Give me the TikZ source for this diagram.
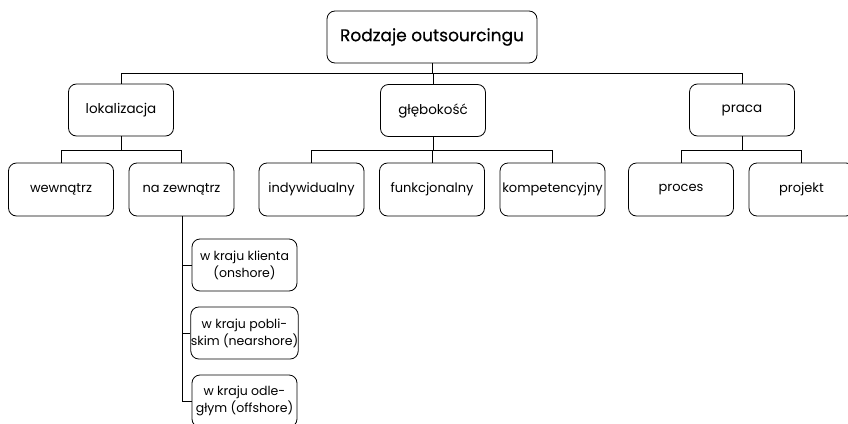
\documentclass[tikz,border=0pt]{standalone}
\usepackage{fontspec}
\setmainfont{Poppins}
\newfontfamily\rootfont[FakeBold=0.6]{Poppins}
\begin{document}
\begin{tikzpicture}[x=1pt,y=-1pt,
  box/.style={draw,line width=0.8pt,rounded corners=8pt,inner sep=0pt,align=center},
  lvlA/.style={box,minimum width=210pt,minimum height=52pt,font=\rootfont\fontsize{17}{20}\selectfont},
  lvlB/.style={box,minimum width=105pt,minimum height=52pt,font=\fontsize{13.5}{16}\selectfont},
  lvlC/.style={box,minimum width=105pt,minimum height=53pt,font=\fontsize{13}{15}\selectfont},
  lvlD/.style={box,minimum width=105pt,minimum height=52pt,font=\fontsize{12.5}{17}\selectfont},
  conn/.style={line width=0.8pt}]
\useasboundingbox (0,0) rectangle (848,423);
\begin{scope}
\clip (0,0) rectangle (848,423);
\node[lvlA] (root) at (432,37) {Rodzaje outsourcingu};
\node[lvlB] (lok) at (121,110) {lokalizacja};
\node[lvlB] (gle) at (433,110.5) {głębokość};
\node[lvlB] (pra) at (742,110) {praca};
\node[lvlC] (wew) at (61,189.5) {wewnątrz};
\node[lvlC] (naz) at (181.5,189.5) {na zewnątrz};
\node[lvlC] (ind) at (311.5,189.5) {indywidualny};
\node[lvlC] (fun) at (432,189.5) {funkcjonalny};
\node[lvlC] (kom) at (552.5,189.5) {kompetencyjny};
\node[lvlC] (pro) at (681,189.5) {proces};
\node[lvlC] (prj) at (801.5,189.5) {projekt};
\node[lvlD] (k1) at (244.5,265) {w kraju klienta\\(onshore)};
\node[lvlD] (k2) at (244.5,333) {w kraju pobli-\\skim (nearshore)};
\node[lvlD] (k3) at (244.5,401) {w kraju odle-\\głym (offshore)};
\coordinate (busA) at (0,73);
\coordinate (busB) at (0,150);
\draw[conn] (root.south) -- (root.south |- busA);
\draw[conn] (lok.north) -- (lok.north |- busA) -- (pra.north |- busA) -- (pra.north);
\draw[conn] (gle.north) -- (gle.north |- busA);
\draw[conn] (lok.south) -- (lok.south |- busB);
\draw[conn] (wew.north) -- (wew.north |- busB) -- (naz.north |- busB) -- (naz.north);
\draw[conn] (gle.south) -- (gle.south |- busB);
\draw[conn] (ind.north) -- (ind.north |- busB) -- (kom.north |- busB) -- (kom.north);
\draw[conn] (fun.north) -- (fun.north |- busB);
\draw[conn] (pra.south) -- (pra.south |- busB);
\draw[conn] (pro.north) -- (pro.north |- busB) -- (prj.north |- busB) -- (prj.north);
\coordinate (trunk) at ([xshift=0.5pt]naz.south);
\draw[conn] (trunk) |- (k3.west);
\draw[conn] (trunk |- k1.west) -- (k1.west);
\draw[conn] (trunk |- k2.west) -- (k2.west);
\end{scope}
\end{tikzpicture}
\end{document}
